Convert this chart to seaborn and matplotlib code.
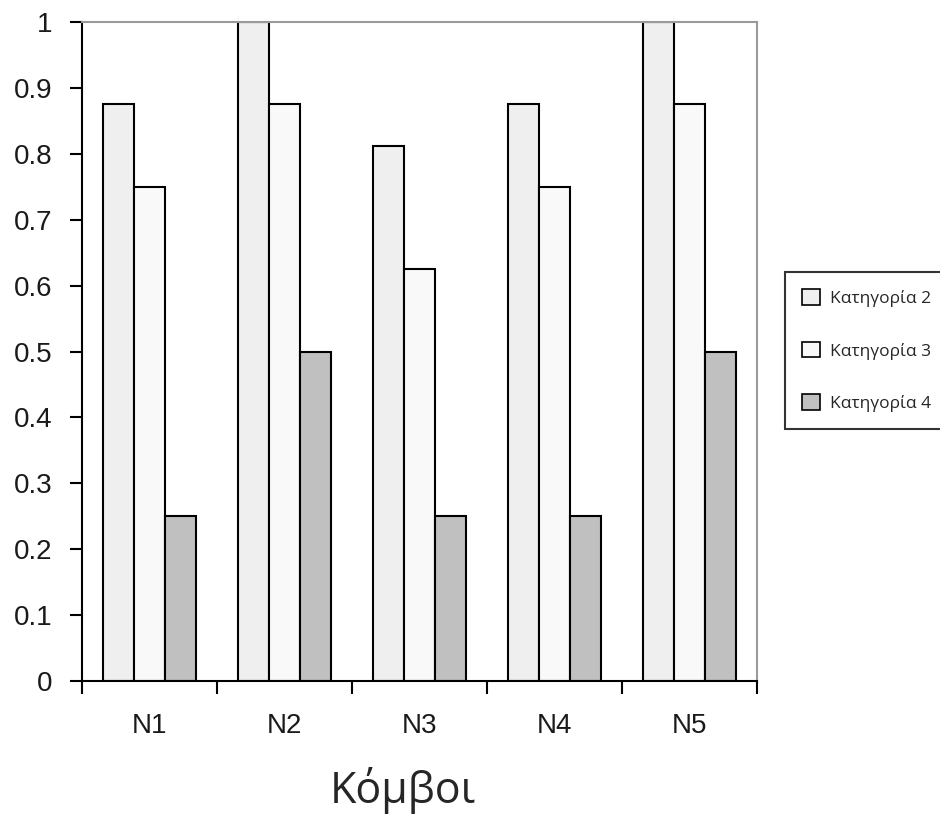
import matplotlib
matplotlib.use("Agg")
import matplotlib.pyplot as plt
import seaborn as sns
import pandas as pd
import numpy as np
from matplotlib.ticker import FixedLocator, FixedFormatter

nodes = ["N1", "N2", "N3", "N4", "N5"]
series_names = ["Κατηγορία 2", "Κατηγορία 3", "Κατηγορία 4"]
cat2 = [0.875, 1.0, 0.8125, 0.875, 1.0]
cat3 = [0.75, 0.875, 0.625, 0.75, 0.875]
cat4 = [0.25, 0.5, 0.25, 0.25, 0.5]
ytick_vals = [0, 0.1, 0.2, 0.3, 0.4, 0.5, 0.6, 0.7, 0.8, 0.9, 1.0]
ytick_labels = ["0", "0.1", "0.2", "0.3", "0.4", "0.5", "0.6", "0.7", "0.8", "0.9", "1"]
xlabel = "Κόμβοι"

df = pd.DataFrame({
    "node": nodes * 3,
    "series": [series_names[0]] * 5 + [series_names[1]] * 5 + [series_names[2]] * 5,
    "value": cat2 + cat3 + cat4,
})

sns.set_style("white")
plt.rcParams["font.family"] = ["Liberation Sans", "DejaVu Sans"]

fig = plt.figure(figsize=(9.4, 8.16), dpi=100)
ax = fig.add_axes([82 / 940, 1 - 681 / 816, (757 - 82) / 940, (681 - 22) / 816])

palette = ["#efefef", "#f9f9f9", "#c0c0c0"]
sns.barplot(data=df, x="node", y="value", hue="series", order=nodes,
            hue_order=series_names, palette=palette, width=0.69,
            edgecolor="black", linewidth=1.5, saturation=1, ax=ax,
            legend=True, errorbar=None)

ax.set_xlim(-0.5, 4.5)
ax.set_ylim(0, 1)
ax.set_xlabel("")
ax.set_ylabel("")

# x ticks: major at boundaries (no labels), minor at centers (labels)
ax.xaxis.set_major_locator(FixedLocator(np.arange(-0.5, 5.0, 1.0)))
ax.xaxis.set_major_formatter(FixedFormatter([""] * 6))
ax.xaxis.set_minor_locator(FixedLocator(np.arange(0, 5)))
ax.xaxis.set_minor_formatter(FixedFormatter(nodes))
ax.tick_params(axis="x", which="major", direction="out", length=9, width=1.5,
               color="black", bottom=True)
ax.tick_params(axis="x", which="minor", length=0, labelsize=20, pad=23,
               bottom=True, labelcolor="#1a1a1a")

ax.set_yticks(ytick_vals)
ax.set_yticklabels(ytick_labels)
ax.tick_params(axis="y", direction="out", length=9, width=1.5, color="black",
               left=True, labelsize=20, pad=12, labelcolor="#1a1a1a")

for side in ["left", "bottom"]:
    ax.spines[side].set_color("black")
    ax.spines[side].set_linewidth(1.5)
for side in ["top", "right"]:
    ax.spines[side].set_visible(True)
    ax.spines[side].set_color("#9a9a9a")
    ax.spines[side].set_linewidth(1.5)

leg = ax.legend(loc="upper left", bbox_to_anchor=(785 / 940, 1 - 272 / 816),
                bbox_transform=fig.transFigure, frameon=True, fancybox=False,
                edgecolor="black", handlelength=1.0,
                handleheight=1.0, labelspacing=2.0, borderpad=1.0,
                handletextpad=0.6, borderaxespad=0,
                prop={"family": ["Open Sans", "DejaVu Sans"], "size": 12.5})
leg.get_frame().set_linewidth(1.5)
for h in leg.legend_handles:
    h.set_edgecolor("black")
    h.set_linewidth(1.2)

fig.text(403 / 940, 1 - 790 / 816, xlabel, ha="center", va="center",
         fontsize=31, family=["Open Sans", "DejaVu Sans"])

fig.savefig("out.png", dpi=100)
